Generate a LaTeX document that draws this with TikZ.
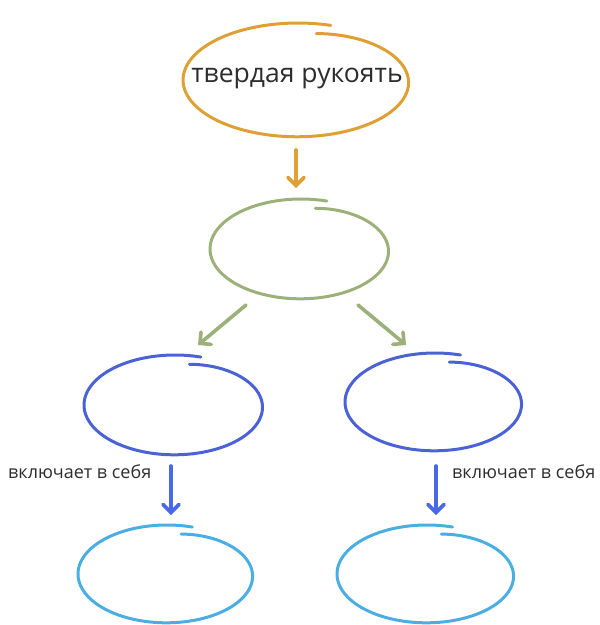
\documentclass[tikz,border=0pt]{standalone}
\usepackage{fontspec}
\setmainfont{Open Sans}
\usetikzlibrary{arrows.meta,shapes.geometric}
\definecolor{corange}{RGB}{222,160,52}
\definecolor{cgreen}{RGB}{156,176,122}
\definecolor{cblue}{RGB}{75,98,214}
\definecolor{carrblue}{RGB}{72,104,232}
\definecolor{clight}{RGB}{75,174,227}
\definecolor{ctext}{RGB}{45,45,45}
\newcommand\handloop[5]{%
  \draw[#5] plot[domain=0:1,samples=120,smooth]
    ({#1+(#3*(1-0.17*(1-\x)^6))*cos(79-366*\x)},{#2-(#4*(1-0.17*(1-\x)^6))*sin(79-366*\x)});}
\tikzset{
  loopline/.style={line width=3pt,line cap=round},
  conn/.style={line width=3.6pt,line cap=round,-{Straight Barb[length=8pt,width=16pt,line cap=round]}},
  lbl/.style={text=ctext,font=\fontsize{18}{21}\selectfont,inner sep=0pt},
}
\begin{document}
\begin{tikzpicture}[x=1pt,y=-1pt]
\useasboundingbox (0,0) rectangle (600,625);
% loops
\handloop{298}{80}{115}{57}{loopline,corange}
\handloop{301}{249}{91}{50}{loopline,cgreen}
\handloop{175}{405}{91}{50}{loopline,cblue}
\handloop{435}{402}{90}{49}{loopline,cblue}
\handloop{167}{574}{89}{49}{loopline,clight}
\handloop{427}{574}{90}{49}{loopline,clight}
% nodes
\node[text=ctext,font=\fontsize{26.5}{30}\selectfont,inner sep=0pt] (top) at (297,78) {твердая рукоять};
% arrow endpoints
\coordinate (a0s) at (296,150);
\coordinate (a0e) at (296,188);
\coordinate (a1s) at (246,305);
\coordinate (a1e) at (198,345);
\coordinate (a2s) at (358,305);
\coordinate (a2e) at (406,345);
\coordinate (a3s) at (171,466);
\coordinate (a3e) at (171,515);
\coordinate (a4s) at (436,466);
\coordinate (a4e) at (436,515);
\draw[conn,corange] (a0s) -- (a0e);
\draw[conn,cgreen] (a1s) -- (a1e);
\draw[conn,cgreen] (a2s) -- (a2e);
\draw[conn,carrblue] (a3s) -- (a3e);
\draw[conn,carrblue] (a4s) -- (a4e);
\node[lbl,anchor=west] (l1) at (8,472) {включает в себя};
\node[lbl,anchor=west] (l2) at (452,472) {включает в себя};
\end{tikzpicture}
\end{document}
